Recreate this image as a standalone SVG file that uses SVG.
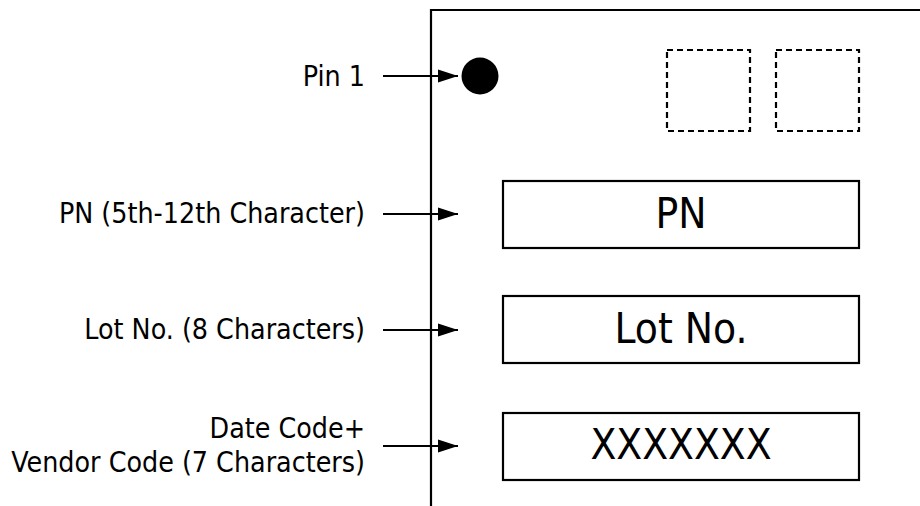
<svg xmlns="http://www.w3.org/2000/svg" width="920" height="506" viewBox="0 0 920 506">
  <style>
    .lbl { font-family: "DejaVu Sans Condensed", "DejaVu Sans", sans-serif; font-stretch: condensed; font-size: 28.3px; fill: #000; text-anchor: end; }
    .mark { font-family: "DejaVu Sans Condensed", "DejaVu Sans", sans-serif; font-stretch: condensed; font-size: 42px; fill: #000; text-anchor: middle; }
    .box { fill: #fff; stroke: #000; stroke-width: 2.2; }
    .pad { fill: none; stroke: #000; stroke-width: 2.2; stroke-dasharray: 6 4; }
    .conn { stroke: #000; stroke-width: 2.2; fill: none; }
  </style>
  <defs>
    <marker id="arrow" markerUnits="userSpaceOnUse" markerWidth="20" markerHeight="14" refX="20" refY="7" orient="auto">
      <path d="M0,0.5 L20,7 L0,13.5 z" fill="#000"/>
    </marker>
  </defs>
  <rect width="920" height="506" fill="#fff"/>

  <!-- package outline -->
  <g id="package">
    <path class="conn" d="M431,506 V10 H920"/>
  </g>

  <!-- pin 1 indicator -->
  <g id="pin1">
    <circle cx="480" cy="76" r="18.5" fill="#000"/>
  </g>

  <!-- dashed pads -->
  <g id="pads">
    <rect class="pad" x="667" y="50" width="83" height="81"/>
    <rect class="pad" x="776" y="50" width="83" height="81"/>
  </g>

  <!-- marking fields -->
  <g id="field-pn">
    <rect class="box" x="503" y="181" width="356" height="67"/>
    <text class="mark" x="681" y="228">PN</text>
  </g>
  <g id="field-lot">
    <rect class="box" x="503" y="296" width="356" height="67"/>
    <text class="mark" x="681" y="343">Lot No.</text>
  </g>
  <g id="field-date">
    <rect class="box" x="503" y="413" width="356" height="67"/>
    <text class="mark" x="681" y="459">XXXXXXX</text>
  </g>

  <!-- callout labels -->
  <g id="label-pin1"><text class="lbl" x="365" y="86">Pin 1</text></g>
  <g id="label-pn"><text class="lbl" x="365" y="223">PN (5th-12th Character)</text></g>
  <g id="label-lot"><text class="lbl" x="365" y="339">Lot No. (8 Characters)</text></g>
  <g id="label-date">
    <text class="lbl" x="365" y="438">Date Code+</text>
    <text class="lbl" x="365" y="472">Vendor Code (7 Characters)</text>
  </g>

  <!-- connectors -->
  <g id="connectors">
    <line class="conn" x1="383" y1="76" x2="458" y2="76" marker-end="url(#arrow)"/>
    <line class="conn" x1="383" y1="214" x2="458" y2="214" marker-end="url(#arrow)"/>
    <line class="conn" x1="383" y1="330" x2="458" y2="330" marker-end="url(#arrow)"/>
    <line class="conn" x1="383" y1="446" x2="458" y2="446" marker-end="url(#arrow)"/>
  </g>
</svg>
